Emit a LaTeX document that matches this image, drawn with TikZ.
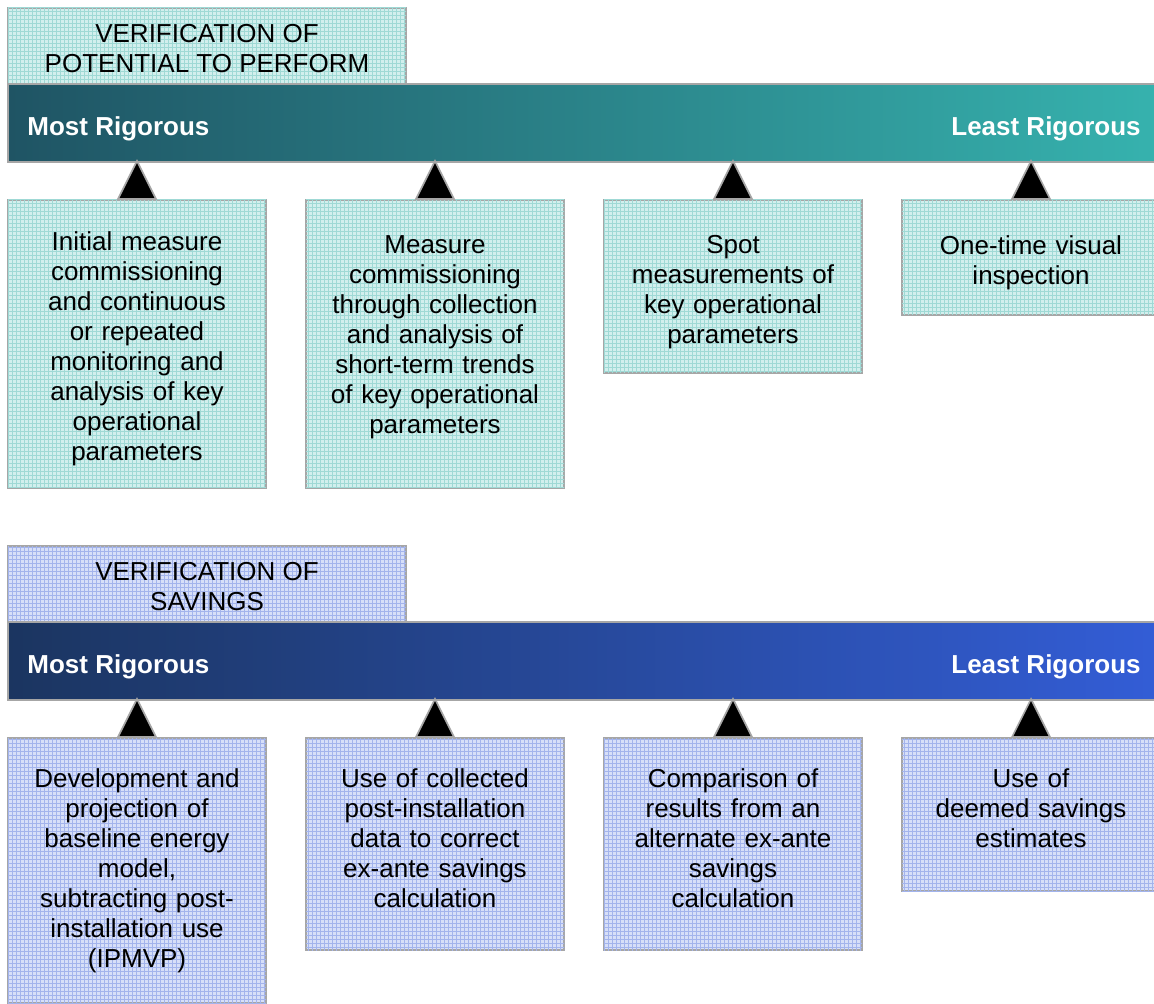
\documentclass[tikz,border=0pt]{standalone}
\usepackage{fontspec}
\setmainfont{Liberation Sans}
\usetikzlibrary{positioning,patterns.meta}
\definecolor{boxgray}{HTML}{A6A6A6}
\definecolor{tealfill}{HTML}{D2EFED}
\definecolor{tealgrid}{HTML}{9FD9D5}
\definecolor{bluefill}{HTML}{D7DFF8}
\definecolor{bluegrid}{HTML}{A3B4EC}
\definecolor{tealleft}{HTML}{1F5464}
\definecolor{tealright}{HTML}{36B2AE}
\definecolor{blueleft}{HTML}{1B3560}
\definecolor{blueright}{HTML}{335DD6}
\tikzset{
  gridded/.style={fill=#1fill,
    postaction={pattern={Lines[distance=2pt,line width=0.5pt]},pattern color=#1grid},
    postaction={pattern={Lines[angle=90,distance=2pt,line width=0.5pt]},pattern color=#1grid}},
  panel/.style={draw=boxgray, line width=1pt, gridded=#1, anchor=north west,
    inner sep=0pt, text width=120pt, align=center, minimum width=129pt},
  heading/.style={draw=boxgray, line width=1pt, gridded=#1, anchor=north west,
    inner sep=0pt, align=center, minimum width=199pt, minimum height=38pt, text height=26.5pt},
  bar/.style={draw=boxgray, line width=1pt, left color=#1left, right color=#1right,
    anchor=north west, minimum width=574.5pt, minimum height=39pt, inner sep=0pt},
  barlabel/.style={text=white, font=\fontsize{13}{15}\selectfont\bfseries, inner sep=0pt},
  tri/.style={draw=boxgray, line width=0.8pt, fill=black, line join=miter}
}
\begin{document}
\begin{tikzpicture}[x=0.5pt,y=-0.5pt,font=\fontsize{13}{15}\selectfont]
\useasboundingbox (0,0) rectangle (1154,1004);

\node[heading=teal] (t1) at (7,7) {VERIFICATION OF\\POTENTIAL TO PERFORM};
\node[bar=teal] (r1) at (7,83) {};
\node[barlabel, anchor=west] (r1a) at ([xshift=10pt,yshift=-3pt]r1.west) {Most Rigorous};
\node[barlabel, anchor=east] (r1b) at ([xshift=-8.5pt,yshift=-3pt]r1.east) {Least Rigorous};

\node[panel=teal, text height=14.5pt, minimum height=144pt] (p1) at (7,199) {Initial measure\\commissioning\\and continuous\\or repeated\\monitoring and\\analysis of key\\operational\\parameters};
\node[panel=teal, text height=14.5pt, minimum height=144pt] (p2) at (305,199) {Measure\\commissioning\\through collection\\and analysis of\\short-term trends\\of key operational\\parameters\\\mbox{}};
\node[panel=teal, text height=14.5pt, minimum height=86.5pt] (p3) at (603,199) {Spot\\measurements of\\key operational\\parameters};
\node[panel=teal, text height=14.5pt, minimum height=57.5pt] (p4) at (901,199) {One-time visual\\inspection};

\node[heading=blue] (t2) at (7,545) {VERIFICATION OF\\SAVINGS};
\node[bar=blue] (r2) at (7,621) {};
\node[barlabel, anchor=west] (r2a) at ([xshift=10pt,yshift=-3pt]r2.west) {Most Rigorous};
\node[barlabel, anchor=east] (r2b) at ([xshift=-8.5pt,yshift=-3pt]r2.east) {Least Rigorous};

\node[panel=blue, minimum height=132.5pt] (s1) at (7,737) {Development and\\projection of\\baseline energy\\model,\\subtracting post-\\installation use\\(IPMVP)};
\node[panel=blue, text height=3.5pt, minimum height=106pt] (s2) at (305,737) {Use of collected\\post-installation\\data to correct\\ex-ante savings\\calculation};
\node[panel=blue, text height=3.5pt, minimum height=106pt] (s3) at (603,737) {Comparison of\\results from an\\alternate ex-ante\\savings\\calculation};
\node[panel=blue, text height=3.5pt, minimum height=76.5pt] (s4) at (901,737) {Use of\\deemed savings\\estimates};

\foreach \b in {p1,p2,p3,p4,s1,s2,s3,s4}
\draw[tri] ([xshift=-9.5pt]\b.north) -- ([yshift=19pt]\b.north) -- ([xshift=9.5pt]\b.north) -- cycle;
\end{tikzpicture}
\end{document}
